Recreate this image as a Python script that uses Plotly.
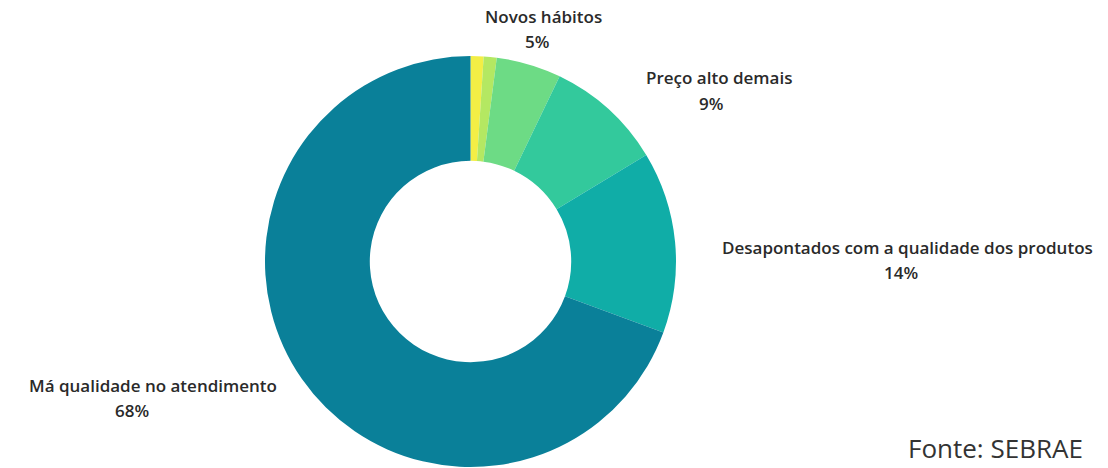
import plotly.graph_objects as go

W, H = 1108, 468

# Data (clockwise from 12 o'clock)
categories = ["Outros 1", "Outros 2", "Novos hábitos", "Preço alto demais",
              "Desapontados com a qualidade dos produtos", "Má qualidade no atendimento"]
values = [1, 1, 5, 9, 14, 68]
colors = ["#f3ee45", "#b4e862", "#6ddb85", "#33c99c", "#10ada7", "#0a8099"]

# labels shown (index into categories) and their pixel anchor positions
shown = [2, 3, 4, 5]
label_pos = {  # (x line1, y line1, x line2, y line2) in pixels
    2: (543, 17, 537, 41),
    3: (719, 78, 711, 103),
    4: (907, 247, 901, 272),
    5: (153, 385, 132, 410),
}

fig = go.Figure(go.Pie(
    labels=categories,
    values=values,
    hole=0.49,
    sort=False,
    direction="clockwise",
    rotation=0,
    marker=dict(colors=colors, line=dict(width=0)),
    textinfo="none",
    hoverinfo="label+percent",
    showlegend=False,
    domain=dict(x=[265 / W, 676 / W], y=[1 - 467 / H, 1 - 56 / H]),
))

font_main = dict(family="'Open Sans', sans-serif", size=17, color="#2a2a2a", weight=600)
anns = []
for i in shown:
    x1, y1, x2, y2 = label_pos[i]
    anns.append(dict(text=categories[i], x=x1 / W, y=1 - y1 / H,
                     xref="paper", yref="paper", showarrow=False,
                     xanchor="center", yanchor="middle", font=font_main))
    anns.append(dict(text="%d%%" % values[i], x=x2 / W, y=1 - y2 / H,
                     xref="paper", yref="paper", showarrow=False,
                     xanchor="center", yanchor="middle", font=font_main))

anns.append(dict(text="Fonte: SEBRAE", x=995 / W, y=0,
                 xref="paper", yref="paper", showarrow=False,
                 xanchor="center", yanchor="bottom",
                 font=dict(family="'Open Sans', sans-serif", size=26, color="#333333")))

fig.update_layout(
    width=W, height=H,
    margin=dict(l=0, r=0, t=0, b=0),
    paper_bgcolor="white", plot_bgcolor="white",
    annotations=anns,
)

fig.write_html("out.html")
